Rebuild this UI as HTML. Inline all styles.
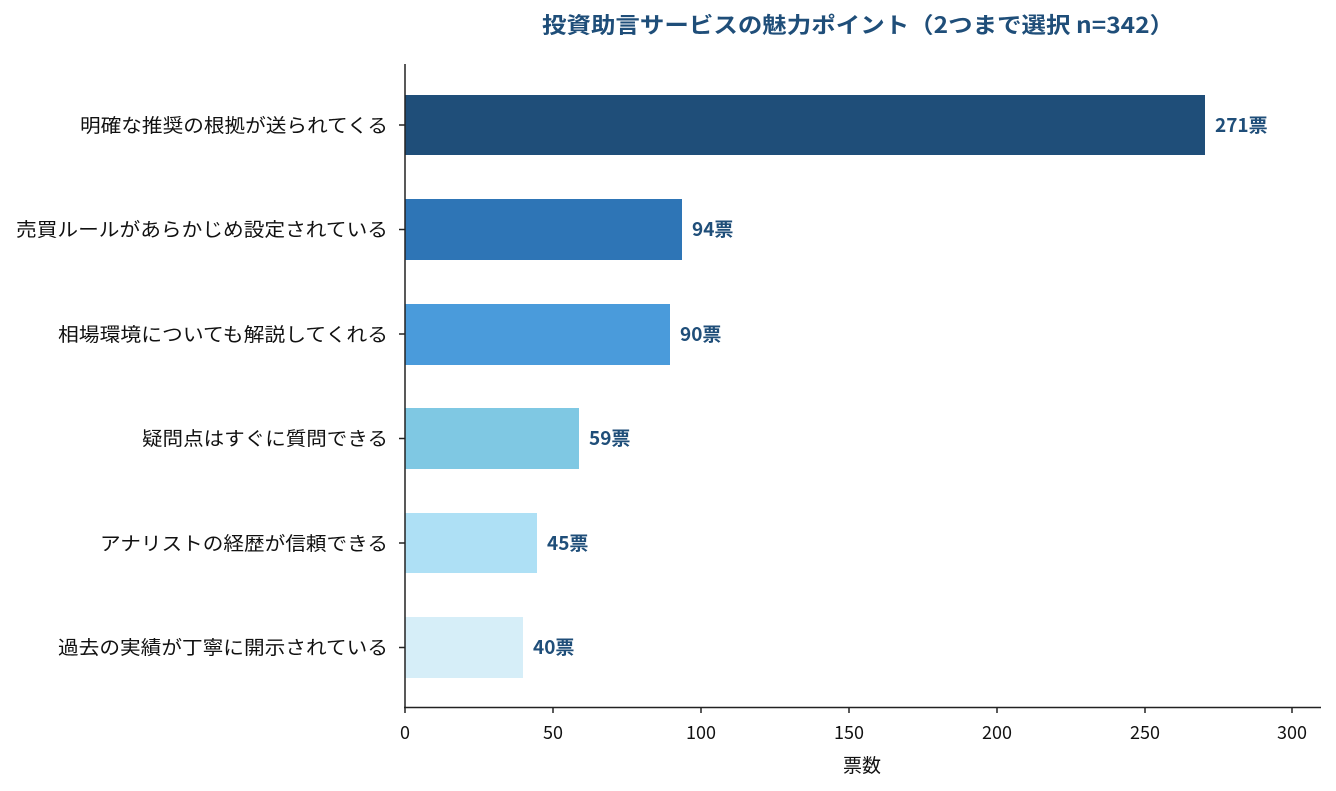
<!DOCTYPE html>
<html><head><meta charset="utf-8"><style>
html,body{margin:0;padding:0;background:#fff;}
svg{display:block;font-family:"Noto Sans CJK JP","Liberation Sans",sans-serif;}
</style></head><body>
<svg width="1336" height="791" viewBox="0 0 1336 791" xmlns="http://www.w3.org/2000/svg">
<text x="858" y="33" text-anchor="middle" font-size="22" font-weight="bold" fill="#1f4e79" textLength="632" lengthAdjust="spacingAndGlyphs">投資助言サービスの魅力ポイント（2つまで選択 n=342）</text>
<g>
<rect x="405" y="95" width="800" height="60" fill="#1f4e79"/>
<rect x="405" y="199" width="277" height="61" fill="#2e75b6"/>
<rect x="405" y="304" width="265" height="61" fill="#4a9bdb"/>
<rect x="405" y="408" width="174" height="61" fill="#7fc8e3"/>
<rect x="405" y="513" width="132" height="60" fill="#aee0f5"/>
<rect x="405" y="617" width="118" height="61" fill="#d6eef8"/>
</g>
<g font-size="19" font-weight="bold" fill="#1f4e79">
<text x="1215" y="132">271票</text>
<text x="692" y="236">94票</text>
<text x="680" y="341">90票</text>
<text x="589" y="445">59票</text>
<text x="547" y="550">45票</text>
<text x="533" y="654">40票</text>
</g>
<g font-size="19" fill="#111" text-anchor="end">
<text x="388" y="132" textLength="308" lengthAdjust="spacingAndGlyphs">明確な推奨の根拠が送られてくる</text>
<text x="388" y="236" textLength="372" lengthAdjust="spacingAndGlyphs">売買ルールがあらかじめ設定されている</text>
<text x="388" y="341" textLength="330" lengthAdjust="spacingAndGlyphs">相場環境についても解説してくれる</text>
<text x="388" y="445" textLength="246" lengthAdjust="spacingAndGlyphs">疑問点はすぐに質問できる</text>
<text x="388" y="550" textLength="288" lengthAdjust="spacingAndGlyphs">アナリストの経歴が信頼できる</text>
<text x="388" y="654" textLength="330" lengthAdjust="spacingAndGlyphs">過去の実績が丁寧に開示されている</text>
</g>
<g stroke="#222" stroke-width="1.5">
<line x1="405" y1="64" x2="405" y2="708"/>
<line x1="404" y1="707.5" x2="1321" y2="707.5"/>
<line x1="399" y1="125" x2="405" y2="125"/>
<line x1="399" y1="229.5" x2="405" y2="229.5"/>
<line x1="399" y1="334" x2="405" y2="334"/>
<line x1="399" y1="438.5" x2="405" y2="438.5"/>
<line x1="399" y1="543" x2="405" y2="543"/>
<line x1="399" y1="647.5" x2="405" y2="647.5"/>
<line x1="405" y1="707" x2="405" y2="713"/>
<line x1="553" y1="707" x2="553" y2="713"/>
<line x1="701" y1="707" x2="701" y2="713"/>
<line x1="849" y1="707" x2="849" y2="713"/>
<line x1="997" y1="707" x2="997" y2="713"/>
<line x1="1145" y1="707" x2="1145" y2="713"/>
<line x1="1292" y1="707" x2="1292" y2="713"/>
</g>
<g font-size="18" fill="#111" text-anchor="middle">
<text x="405" y="739">0</text>
<text x="553" y="739">50</text>
<text x="701" y="739">100</text>
<text x="849" y="739">150</text>
<text x="997" y="739">200</text>
<text x="1145" y="739">250</text>
<text x="1292" y="739">300</text>
<text x="862" y="772" font-size="19">票数</text>
</g>
</svg>
</body></html>
